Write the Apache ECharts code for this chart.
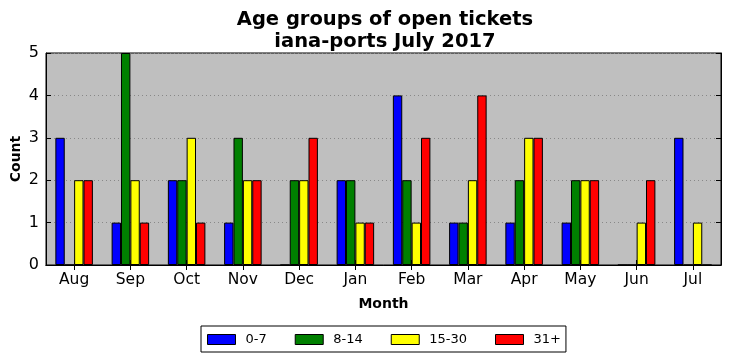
<!DOCTYPE html>
<html><head><meta charset="utf-8">
<script src="https://cdn.jsdelivr.net/npm/echarts@6/dist/echarts.min.js"></script>
<style>html,body{margin:0;padding:0;background:#fff}#c{width:731px;height:361px}</style>
</head><body><div id="c"></div>
<script>
const months = ['Aug','Sep','Oct','Nov','Dec','Jan','Feb','Mar','Apr','May','Jun','Jul'];
const seriesNames = ['0-7','8-14','15-30','31+'];
const age0_7   = [3,1,2,1,0,2,4,1,1,1,0,3];
const age8_14  = [0,5,2,3,2,2,2,1,2,2,0,0];
const age15_30 = [2,2,3,2,2,1,1,2,3,2,1,1];
const age31p   = [2,1,1,2,3,1,3,4,3,2,2,0];
const colors = ['#0000ff','#008000','#ffff00','#ff0000'];
const yTicks = [0,1,2,3,4,5];

const font = 'DejaVu Sans';
const chart = echarts.init(document.getElementById('c'), null, {renderer:'canvas'});
const data = [age0_7, age8_14, age15_30, age31p];
chart.setOption({
  animation:false,
  title:{
    text:'Age groups of open tickets\niana-ports July 2017',
    left:380, top:4, textAlign:'center',
    textStyle:{fontFamily:font, fontWeight:'bold', fontSize:19.5, color:'#000', lineHeight:22}
  },
  legend:{
    data:seriesNames, left:201, top:326,
    orient:'horizontal', icon:'rect',
    padding:[7,5,6,6], itemGap:28, itemWidth:28, itemHeight:10,
    borderColor:'#000', borderWidth:1, backgroundColor:'#fff',
    textStyle:{fontFamily:font, fontSize:13, color:'#000', padding:[0,0,0,5]},
    itemStyle:{borderColor:'#000', borderWidth:1}
  },
  grid:{left:46, right:10, top:53, bottom:96, show:true, outerBoundsMode:'none', containLabel:false, backgroundColor:'#bfbfbf', borderColor:'#000', borderWidth:1},
  xAxis:[{
    type:'category', data:months, position:'bottom',
    name:'Month', nameLocation:'middle', nameGap:32,
    nameTextStyle:{fontFamily:font, fontWeight:'bold', fontSize:14, color:'#000'},
    axisLine:{show:true, lineStyle:{color:'#000'}},
    axisTick:{show:true, inside:true, length:5, alignWithLabel:true, lineStyle:{color:'#000'}},
    axisLabel:{fontFamily:font, fontSize:15.5, color:'#000', margin:7}
  },{
    type:'category', data:months, position:'top',
    axisLine:{show:true, lineStyle:{color:'#000'}},
    axisTick:{show:true, inside:true, length:5, alignWithLabel:true, lineStyle:{color:'#000'}},
    axisLabel:{show:false}
  }],
  yAxis:[{
    type:'value', min:0, max:5, interval:1, position:'left',
    name:'Count', nameLocation:'middle', nameGap:23, nameRotate:90,
    nameMoveOverlap:false,
    nameTextStyle:{fontFamily:font, fontWeight:'bold', fontSize:14, color:'#000'},
    axisLine:{show:true, lineStyle:{color:'#000'}},
    axisTick:{show:true, inside:true, length:5, lineStyle:{color:'#000'}},
    axisLabel:{fontFamily:font, fontSize:16, color:'#000', margin:7},
    splitLine:{show:true, lineStyle:{color:'#888', type:[1,3], width:1}}
  },{
    type:'value', min:0, max:5, interval:1, position:'right',
    axisLine:{show:true, lineStyle:{color:'#000'}},
    axisTick:{show:true, inside:true, length:5, lineStyle:{color:'#000'}},
    axisLabel:{show:false}, splitLine:{show:false}
  }],
  series: seriesNames.map((n,i)=>({
    name:n, type:'bar', data:data[i], xAxisIndex:0, yAxisIndex:0,
    barGap:'0%', barCategoryGap:'33.3%',
    itemStyle:{color:colors[i], borderColor:'#000', borderWidth:1}
  }))
});
</script></body></html>
